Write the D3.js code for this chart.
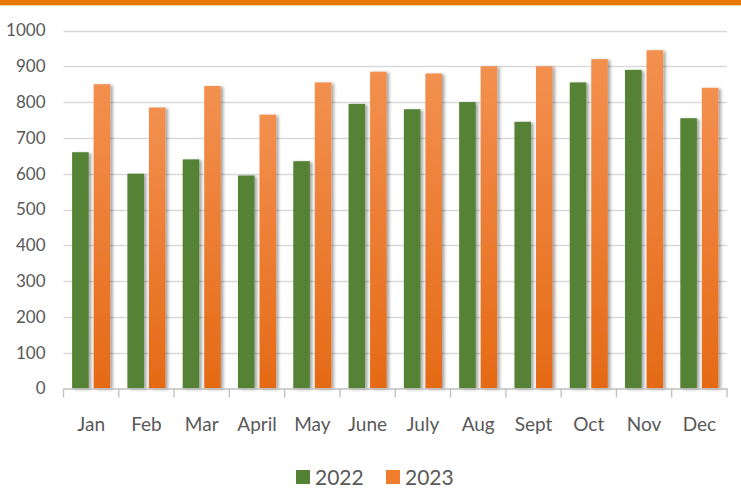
<!DOCTYPE html>
<html><head><meta charset="utf-8">
<script src="https://cdn.jsdelivr.net/npm/d3@7"></script>
<style>
body{margin:0;background:#fff;}
svg{display:block;}
text{font-family:Lato,"Liberation Sans",sans-serif;fill:#595959;}
</style></head>
<body>
<svg id="chart" width="741" height="491"></svg>
<script>
const categories = ["Jan","Feb","Mar","April","May","June","July","Aug","Sept","Oct","Nov","Dec"];
const series2022 = [660,600,640,595,635,795,780,800,745,855,890,755];
const series2023 = [850,785,845,765,855,885,880,900,900,920,945,840];
const seriesNames = ["2022","2023"];
const yTicks = [0,100,200,300,400,500,600,700,800,900,1000];

const W = 741, H = 491;
const margin = {left:63.5, right:14, top:30.5, bottom:102.5};
const svg = d3.select("#chart");

// top band
svg.append("rect").attr("x",0).attr("y",0).attr("width",W).attr("height",5).attr("fill","#E97900");
svg.append("rect").attr("x",0).attr("y",5).attr("width",W).attr("height",1).attr("fill","#f2d2b0");

const defs = svg.append("defs");
const grad = defs.append("linearGradient").attr("id","og").attr("x1",0).attr("y1",0).attr("x2",0).attr("y2",1);
grad.append("stop").attr("offset","0%").attr("stop-color","#F3904F");
grad.append("stop").attr("offset","100%").attr("stop-color","#E56A16");
const f = defs.append("filter").attr("id","sh").attr("x","-30%").attr("y","-10%").attr("width","180%").attr("height","130%");
f.append("feDropShadow").attr("dx",2.5).attr("dy",1).attr("stdDeviation",1.5).attr("flood-color","#000").attr("flood-opacity",0.35);

const x0 = d3.scaleBand().domain(categories).range([margin.left, W-margin.right]).paddingInner(0).paddingOuter(0);
const x1 = d3.scaleBand().domain(seriesNames).range([0, x0.bandwidth()]).paddingInner(0.23).paddingOuter(0.4);
const y = d3.scaleLinear().domain([0,1000]).range([H-margin.bottom, margin.top]);

// gridlines
svg.append("g").selectAll("line").data(yTicks.filter(d=>d>0)).join("line")
  .attr("x1",margin.left).attr("x2",W-margin.right)
  .attr("y1",d=>Math.round(y(d))+0.5).attr("y2",d=>Math.round(y(d))+0.5)
  .attr("stroke","#d9d9d9").attr("stroke-width",1.3);

// y axis labels
const yAxis = d3.axisLeft(y).tickValues(yTicks).tickFormat(d3.format("d")).tickSize(0).tickPadding(18);
const gy = svg.append("g").attr("transform",`translate(${margin.left},0)`).call(yAxis);
gy.select(".domain").remove();
gy.selectAll("text").attr("font-size",17).attr("fill","#595959").style("font-family","Lato,'Liberation Sans',sans-serif");

// bars
const colors = {"2022":"#548235","2023":"url(#og)"};
const data = categories.map((c,i)=>({cat:c, vals:[{k:"2022",v:series2022[i]},{k:"2023",v:series2023[i]}]}));
const gb = svg.append("g");
gb.selectAll("g").data(data).join("g").attr("transform",d=>`translate(${x0(d.cat)},0)`)
  .selectAll("rect").data(d=>d.vals).join("rect")
  .attr("x",d=>x1(d.k)).attr("width",x1.bandwidth())
  .attr("y",d=>y(d.v)).attr("height",d=>y(0)-y(d.v))
  .attr("fill",d=>colors[d.k]).attr("filter","url(#sh)");

// x axis
const xAxis = d3.axisBottom(x0).tickSize(0);
const gx = svg.append("g").attr("transform",`translate(0,${y(0)})`).call(xAxis);
gx.select(".domain").attr("stroke","#bfbfbf").attr("stroke-width",1.3);
gx.selectAll(".tick text").attr("y",42).attr("dy","0").attr("font-size",19).attr("fill","#595959").style("font-family","Lato,'Liberation Sans',sans-serif");
// category boundary ticks
const bounds = categories.map(c=>x0(c)).concat([x0(categories[categories.length-1])+x0.bandwidth()]);
gx.append("g").selectAll("line").data(bounds).join("line")
  .attr("x1",d=>d).attr("x2",d=>d).attr("y1",0).attr("y2",9)
  .attr("stroke","#bfbfbf").attr("stroke-width",1.3);

// legend
const legend = svg.append("g");
const legItems = [{k:"2022",c:"#548235",x:296},{k:"2023",c:"#F07C2E",x:386}];
legItems.forEach(it=>{
  legend.append("rect").attr("x",it.x).attr("y",470).attr("width",14).attr("height",14).attr("fill",it.c);
  legend.append("text").attr("x",it.x+19).attr("y",485).attr("font-size",21).attr("fill","#595959").text(it.k);
});
</script>
</body></html>
